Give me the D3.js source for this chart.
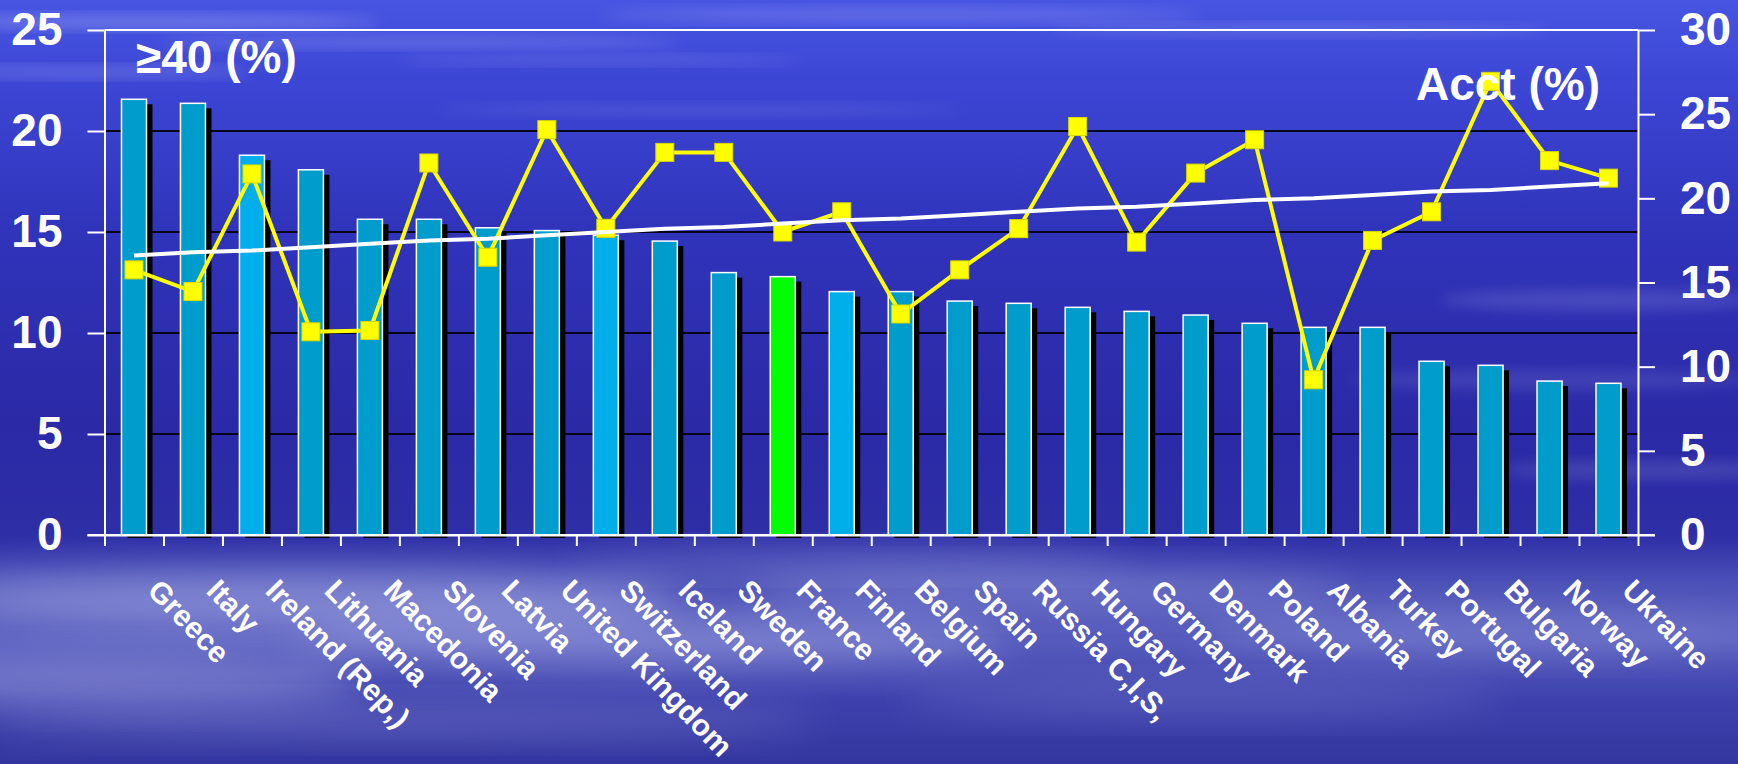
<!DOCTYPE html>
<html><head><meta charset="utf-8">
<script src="https://cdn.jsdelivr.net/npm/d3@7"></script>
<style>html,body{margin:0;padding:0;overflow:hidden;background:#2c2ca8}</style>
</head><body>
<svg id="chart" width="1738" height="764"></svg>
<script>
// ---------- data ----------
const categories = ["Greece","Italy","Ireland (Rep,)","Lithuania","Macedonia","Slovenia","Latvia","United Kingdom","Switzerland","Iceland","Sweden","France","Finland","Belgium","Spain","Russia C,I,S,","Hungary","Germany","Denmark","Poland","Albania","Turkey","Portugal","Bulgaria","Norway","Ukraine"];
const over40 = [21.57,21.37,18.8,18.08,15.63,15.63,15.21,15.07,14.84,14.55,12.99,12.79,12.05,12.05,11.58,11.47,11.27,11.07,10.89,10.48,10.28,10.28,8.6,8.4,7.62,7.51];
const acct = [15.75,14.46,21.45,12.07,12.15,22.1,16.5,24.08,18.22,22.73,22.73,18.0,19.2,13.13,15.75,18.2,24.27,17.4,21.5,23.48,9.22,17.5,19.2,26.95,22.24,21.2];
const acctTrend = [16.6,16.8,16.9,17.1,17.3,17.5,17.6,17.8,18.0,18.2,18.3,18.5,18.7,18.8,19.0,19.2,19.4,19.5,19.7,19.9,20.0,20.2,20.4,20.5,20.7,20.9];
const leftTicks = [0,5,10,15,20,25];
const rightTicks = [0,5,10,15,20,25,30];
const leftTitle = "≥40 (%)";
const rightTitle = "Acct (%)";
const lightBars = ["Ireland (Rep,)","Switzerland","Finland"];
const greenBars = ["France"];

// ---------- layout ----------
const W = 1738, H = 764;
const X0 = 104.5, X1 = 1638, Y0 = 535, Y1 = 30;
const svg = d3.select("#chart");
const FONT = "'Liberation Sans', Arial, Helvetica, sans-serif";

// background
const defs = svg.append("defs");
const bg = defs.append("linearGradient").attr("id","bg").attr("x1",0).attr("y1",0).attr("x2",0).attr("y2",1);
[[0,"#4755e2"],[0.1,"#3d47d6"],[0.3,"#3034bb"],[0.55,"#2b29a6"],[0.7,"#2e2ea6"],[0.76,"#4a4fb6"],[0.84,"#565bbd"],[0.92,"#3d40ac"],[1,"#34369f"]]
  .forEach(([o,c])=>bg.append("stop").attr("offset",o).attr("stop-color",c));
const blur = defs.append("filter").attr("id","blur").attr("x","-50%").attr("y","-50%").attr("width","200%").attr("height","200%");
blur.append("feGaussianBlur").attr("stdDeviation",7);
const blur2 = defs.append("filter").attr("id","blur2").attr("x","-50%").attr("y","-50%").attr("width","200%").attr("height","200%");
blur2.append("feGaussianBlur").attr("stdDeviation",18);
svg.append("rect").attr("width",W).attr("height",H).attr("fill","url(#bg)");
const clouds = svg.append("g");
const wisps = [
  [150,22,230,6,0.3,1],[420,42,260,5,0.25,1],[900,15,300,6,0.22,1],[1300,30,250,5,0.2,1],[80,72,170,5,0.25,1],
  [600,60,200,4,0.18,1],[700,110,260,5,0.12,1],[1600,300,160,10,0.15,1],[1550,380,200,10,0.12,1],[1650,470,150,8,0.15,1],
  [300,600,380,30,0.34,2],[650,640,360,28,0.26,2],[100,680,260,26,0.3,2],[1050,590,300,22,0.2,2],
  [1500,630,300,24,0.18,2],[400,720,420,18,0.18,2],[1200,700,300,18,0.14,2],[850,560,280,14,0.18,2]
];
wisps.forEach(([cx,cy,rx,ry,op,f])=>clouds.append("ellipse").attr("cx",cx).attr("cy",cy).attr("rx",rx).attr("ry",ry)
  .attr("fill","#dfe3ff").attr("opacity",op).attr("filter", f===1?"url(#blur)":"url(#blur2)"));

// scales
const x = d3.scaleBand().domain(categories).range([X0,X1]).paddingInner(0.576).paddingOuter(0.288);
const xEdge = d3.scaleLinear().domain([0,categories.length]).range([X0,X1]);
const yL = d3.scaleLinear().domain([0,25]).range([Y0,Y1]);
const yR = d3.scaleLinear().domain([0,30]).range([Y0,Y1]);
const cx = d => x(d) + x.bandwidth()/2;

// gridlines
svg.append("g").selectAll("line").data(leftTicks.filter(t=>t>0 && t<25)).join("line")
  .attr("x1",X0).attr("x2",X1).attr("y1",d=>yL(d)).attr("y2",d=>yL(d))
  .attr("stroke","#05051a").attr("stroke-width",2.2);

// bar shadows
svg.append("g").selectAll("rect").data(categories).join("rect")
  .attr("x",d=>x(d)+6).attr("y",(d,i)=>yL(over40[i])+5)
  .attr("width",x.bandwidth()).attr("height",(d,i)=>Y0+3-(yL(over40[i])+5))
  .attr("fill","#000");
// bars
svg.append("g").selectAll("rect").data(categories).join("rect")
  .attr("x",d=>x(d)).attr("y",(d,i)=>yL(over40[i]))
  .attr("width",x.bandwidth()).attr("height",(d,i)=>Y0-yL(over40[i]))
  .attr("fill",d=>greenBars.includes(d)?"#00ff00":(lightBars.includes(d)?"#00aeea":"#009ccc"))
  .attr("stroke","#ffffff").attr("stroke-width",1.5);

// top border
svg.append("line").attr("x1",X0).attr("x2",X1).attr("y1",Y1).attr("y2",Y1).attr("stroke","#fff").attr("stroke-width",2);

// axes
function styleAxis(g){
  g.selectAll("path,line").attr("stroke","#fff").attr("stroke-width",2);
  g.selectAll("text").attr("fill","#fff").attr("font-family",FONT).attr("font-weight","bold").attr("font-size",46);
}
svg.append("g").attr("transform",`translate(${X0},0)`)
  .call(d3.axisLeft(yL).tickValues(leftTicks).tickSize(17).tickSizeOuter(0).tickPadding(25).tickFormat(d3.format("d")))
  .call(styleAxis);
svg.append("g").attr("transform",`translate(${X1},0)`)
  .call(d3.axisRight(yR).tickValues(rightTicks).tickSize(17).tickSizeOuter(0).tickPadding(25).tickFormat(d3.format("d")))
  .call(styleAxis);
svg.append("g").attr("transform",`translate(0,${Y0})`)
  .call(d3.axisBottom(xEdge).tickValues(d3.range(categories.length+1)).tickSize(11).tickSizeOuter(0).tickFormat(""))
  .call(styleAxis);
svg.append("line").attr("x1",X0-17).attr("x2",X1+17).attr("y1",Y0).attr("y2",Y0).attr("stroke","#fff").attr("stroke-width",2);

// category labels
svg.append("g").selectAll("text").data(categories).join("text")
  .attr("transform",d=>`translate(${cx(d)+12},${Y0+57}) rotate(46)`)
  .attr("fill","#fff").attr("font-family",FONT).attr("font-weight","bold").attr("font-size",30)
  .text(d=>d);

// acct line
const line = d3.line().x((d,i)=>cx(categories[i])).y(d=>yR(d));
svg.append("path").datum(acct).attr("d",line).attr("fill","none").attr("stroke","#ffff00").attr("stroke-width",4);
svg.append("g").selectAll("rect").data(acct).join("rect")
  .attr("x",(d,i)=>cx(categories[i])-9).attr("y",d=>yR(d)-9).attr("width",18).attr("height",18)
  .attr("fill","#ffff00").attr("stroke","#d8d800").attr("stroke-width",1);
// trend line
svg.append("path").datum(acctTrend).attr("d",line).attr("fill","none").attr("stroke","#ffffff").attr("stroke-width",4);

// titles
svg.append("text").attr("x",136).attr("y",73).attr("fill","#fff").attr("font-family",FONT).attr("font-weight","bold").attr("font-size",46).text(leftTitle);
svg.append("text").attr("x",1600).attr("y",100).attr("text-anchor","end").attr("fill","#fff").attr("font-family",FONT).attr("font-weight","bold").attr("font-size",46).text(rightTitle);
</script>
</body></html>
